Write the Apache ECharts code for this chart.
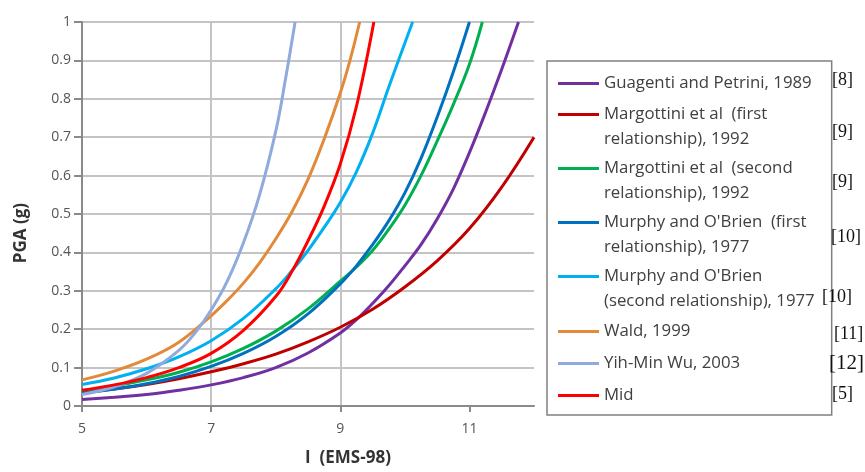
<!DOCTYPE html>
<html>
<head>
<meta charset="utf-8">
<script src="https://cdn.jsdelivr.net/npm/echarts@6/dist/echarts.min.js"></script>
<style>
  html, body { margin: 0; padding: 0; background: #ffffff; }
  #chart { width: 865px; height: 472px; }
</style>
</head>
<body>
<div id="chart"></div>
<script>
// ---- Data ----
const xTickValues = [5, 7, 9, 11];

const guagentiI   = [5, 5.5, 6, 6.5, 7, 7.5, 8, 8.5, 9, 9.25, 9.5, 9.75, 10, 10.25, 10.5, 10.75, 11, 11.25, 11.5, 11.76];
const guagentiPGA = [0.017, 0.023, 0.03, 0.041, 0.055, 0.074, 0.10, 0.138, 0.19, 0.225, 0.267, 0.313, 0.365, 0.42, 0.487, 0.565, 0.66, 0.765, 0.877, 1.0];

const margottini1I   = [5, 5.5, 6, 6.5, 7, 7.5, 8, 8.5, 9, 9.5, 10, 10.5, 11, 11.5, 12];
const margottini1PGA = [0.035, 0.044, 0.056, 0.071, 0.089, 0.11, 0.135, 0.167, 0.205, 0.252, 0.31, 0.378, 0.462, 0.57, 0.70];

const margottini2I   = [5, 5.5, 6, 6.5, 7, 7.5, 8, 8.5, 9, 9.25, 9.5, 9.75, 10, 10.25, 10.5, 10.75, 11, 11.2];
const margottini2PGA = [0.04, 0.052, 0.068, 0.088, 0.115, 0.15, 0.195, 0.253, 0.325, 0.362, 0.405, 0.46, 0.523, 0.60, 0.69, 0.785, 0.89, 1.0];

const murphy1I   = [5, 5.5, 6, 6.5, 7, 7.5, 8, 8.5, 9, 9.25, 9.5, 9.75, 10, 10.25, 10.5, 10.75, 11.0];
const murphy1PGA = [0.033, 0.044, 0.058, 0.077, 0.103, 0.137, 0.181, 0.24, 0.318, 0.365, 0.42, 0.482, 0.555, 0.645, 0.752, 0.87, 1.0];

const murphy2I   = [5, 5.5, 6, 6.5, 7, 7.5, 8, 8.25, 8.5, 8.75, 9, 9.25, 9.5, 9.75, 10.12];
const murphy2PGA = [0.056, 0.073, 0.097, 0.128, 0.17, 0.228, 0.305, 0.352, 0.405, 0.465, 0.53, 0.61, 0.71, 0.83, 1.0];

const waldI   = [5, 5.5, 6, 6.5, 7, 7.25, 7.5, 7.75, 8, 8.25, 8.5, 8.75, 9, 9.15, 9.3];
const waldPGA = [0.068, 0.091, 0.122, 0.166, 0.235, 0.275, 0.32, 0.373, 0.435, 0.505, 0.59, 0.695, 0.815, 0.9, 1.0];

const yihI   = [5, 5.5, 6, 6.5, 6.75, 7, 7.25, 7.5, 7.75, 8, 8.15, 8.3];
const yihPGA = [0.03, 0.05, 0.085, 0.145, 0.19, 0.25, 0.325, 0.425, 0.55, 0.715, 0.85, 1.0];

const midI   = [5, 5.5, 6, 6.5, 7, 7.5, 8, 8.25, 8.5, 8.75, 9, 9.25, 9.52];
const midPGA = [0.041, 0.055, 0.074, 0.10, 0.137, 0.197, 0.285, 0.35, 0.43, 0.52, 0.63, 0.78, 1.0];

const seriesNames = [
  'Guagenti and Petrini, 1989',
  'Margottini et al  (first\nrelationship), 1992',
  'Margottini et al  (second\nrelationship), 1992',
  "Murphy and O'Brien  (first\nrelationship), 1977",
  "Murphy and O'Brien\n(second relationship), 1977",
  'Wald, 1999',
  'Yih-Min Wu, 2003',
  'Mid'
];
const references = ['[8]', '[9]', '[9]', '[10]', '[10]', '[11]', '[12]', '[5]'];
const seriesColors = ['#7030A0', '#C00000', '#00B050', '#0070C0', '#00B0F0', '#E3893A', '#8FAADC', '#FF0000'];

// ---- Build chart ----
const xs = [guagentiI, margottini1I, margottini2I, murphy1I, murphy2I, waldI, yihI, midI];
const ys = [guagentiPGA, margottini1PGA, margottini2PGA, murphy1PGA, murphy2PGA, waldPGA, yihPGA, midPGA];

function pairs(a, b) { return a.map((v, i) => [v, b[i]]); }

const series = seriesNames.map((name, k) => ({
  name: name,
  type: 'line',
  data: pairs(xs[k], ys[k]),
  showSymbol: false,
  smooth: 0.4,
  color: seriesColors[k],
  lineStyle: { width: 3, color: seriesColors[k] },
  emphasis: { disabled: true },
  animation: false
}));

const iconSingle = 'path://M0,0 M0,12 L41,12 L41,15 L0,15 Z M41,27';
const iconDouble = 'path://M0,0 L41,0 L41,3 L0,3 Z M41,27';

const fontFam = '"Open Sans", "Noto Sans", sans-serif';

const chart = echarts.init(document.getElementById('chart'), null, { renderer: 'canvas' });

const refFont = '18px "Liberation Serif", serif';
function refText(i, x, y, font) {
  return { type: 'text', z: 100, x: x, y: y,
           style: { text: references[i], font: font || refFont, fill: '#111111', verticalAlign: 'middle' } };
}

const option = {
  backgroundColor: '#ffffff',
  animation: false,
  grid: { left: 82, right: 331, top: 22, bottom: 62, containLabel: false },
  xAxis: {
    type: 'value',
    min: 5, max: 12, interval: 2,
    name: 'I  (EMS-98)',
    nameLocation: 'middle',
    nameGap: 44,
    nameTextStyle: { fontFamily: fontFam, fontSize: 17, fontWeight: 'bold', color: '#333333', padding: [0, 0, 0, 80] },
    axisLine: { show: true, lineStyle: { color: '#8a8a8a', width: 2 } },
    axisTick: { show: true, length: 6, customValues: xTickValues, lineStyle: { color: '#8a8a8a', width: 2 } },
    axisLabel: { customValues: xTickValues, margin: 16, fontFamily: fontFam, fontSize: 14, color: '#555555' },
    splitLine: { show: true, showMinLine: false, showMaxLine: false, lineStyle: { color: '#c4c4c4', width: 2 } }
  },
  yAxis: {
    type: 'value',
    min: 0, max: 1, interval: 0.1,
    name: 'PGA (g)',
    nameLocation: 'middle',
    nameRotate: 90,
    nameGap: 52,
    nameTextStyle: { fontFamily: fontFam, fontSize: 17, fontWeight: 'bold', color: '#333333', padding: [0, 38, 0, 0] },
    axisLine: { show: true, lineStyle: { color: '#8a8a8a', width: 2 } },
    axisTick: { show: true, length: 8, lineStyle: { color: '#8a8a8a', width: 2 } },
    axisLabel: { margin: 11, fontFamily: fontFam, fontSize: 14, color: '#555555' },
    splitLine: { show: true, showMinLine: false, lineStyle: { color: '#c4c4c4', width: 2 } }
  },
  legend: {
    orient: 'vertical',
    left: 547,
    top: 61,
    itemWidth: 41,
    itemHeight: 27,
    itemGap: 5,
    symbolKeepAspect: false,
    padding: [9, 17, 6, 11],
    borderColor: '#808080',
    borderWidth: 1.5,
    backgroundColor: '#ffffff',
    selectedMode: false,
    itemStyle: { borderWidth: 0 },
    textStyle: { fontFamily: fontFam, fontSize: 16.8, lineHeight: 24.5, color: '#404040' },
    data: seriesNames.map(n => ({ name: n, icon: n.indexOf('\n') >= 0 ? iconDouble : iconSingle }))
  },
  graphic: [
    refText(0, 832, 80),
    refText(1, 832, 132),
    refText(2, 832, 182),
    refText(3, 831, 237),
    refText(4, 822, 297),
    refText(5, 834, 334),
    refText(6, 829, 363, '21px "Liberation Serif", serif'),
    refText(7, 832, 394)
  ],
  series: series
};

chart.setOption(option);
</script>
</body>
</html>
